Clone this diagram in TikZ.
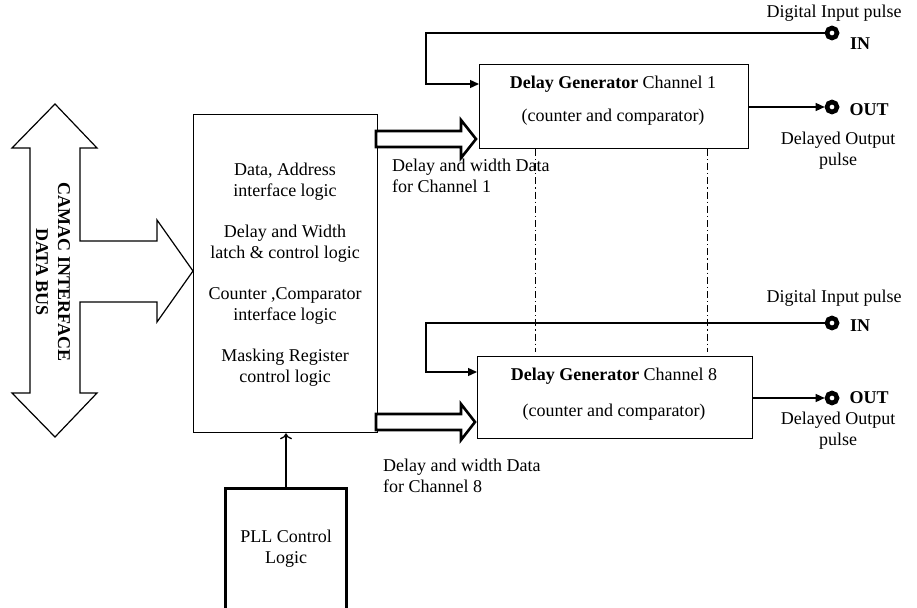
\documentclass[tikz,border=0pt]{standalone}
\usepackage{fontspec}
\setmainfont{Liberation Serif}
\usetikzlibrary{arrows.meta}
\begin{document}
\begin{tikzpicture}[x=1pt,y=-1pt,
  txt/.style={font=\fontsize{18}{21}\selectfont, inner sep=0pt, align=center},
  bold/.style={font=\fontsize{18}{21}\selectfont\bfseries},
  thinln/.style={line width=1.3pt},
  blk/.style={draw, line width=1.3pt, inner sep=0pt},
  port/.style={circle, draw, line width=4.6pt, minimum size=10pt, inner sep=0pt},
  dashdotline/.style={line width=0.9pt, dash pattern=on 7pt off 3pt on 1.2pt off 3pt},
  fatarrow/.style={draw, line width=2.6pt, fill=white, line join=miter},
  tri/.style={-{Triangle[length=9pt,width=8pt]}}
]
\useasboundingbox (0,0) rectangle (917,607);

% CAMAC bus arrow
\draw[line width=1.2pt, line join=miter] (55,104) -- (97,148) -- (80,148) -- (80,241) -- (157,241) -- (157,220) -- (193,271) -- (157,322) -- (157,302) -- (80,302) -- (80,393) -- (97,393) -- (55,437) -- (12,393) -- (30,393) -- (30,148) -- (12,148) -- cycle;
\node[txt, font=\fontsize{18}{22}\selectfont\bfseries, rotate=-90] (camac) at (53,272) {CAMAC INTERFACE\\DATA BUS};

% main box
\node[blk, minimum width=184pt, minimum height=318pt, anchor=north west] (main) at (193,114) {};
\node[txt] (m1) at (285,181.5) {Data, Address\\interface logic};
\node[txt] (m2) at (285,244) {Delay and Width\\latch \& control logic};
\node[txt] (m3) at (285,306) {Counter ,Comparator\\interface logic};
\node[txt] (m4) at (285,367.5) {Masking Register\\control logic};

% delay generator boxes
\node[blk, minimum width=269pt, minimum height=84pt, anchor=north west] (dg1) at (479,64) {};
\node[txt] (dg1a) at (613,84) {\textbf{Delay Generator} Channel 1};
\node[txt] (dg1b) at (613,117) {(counter and comparator)};

\node[blk, minimum width=275pt, minimum height=82pt, anchor=north west] (dg8) at (477,356) {};
\node[txt] (dg8a) at (614,376) {\textbf{Delay Generator} Channel 8};
\node[txt] (dg8b) at (614,412) {(counter and comparator)};

% dash-dot links
\draw[dashdotline] (535,149) -- (535,352);
\draw[dashdotline] (707,149) -- (707,352);

% ports
\node[port] (in1) at (832,33) {};
\node[port] (out1) at (832,107) {};
\node[port] (in8) at (832,323) {};
\node[port] (out8) at (832,398) {};

\node[txt] (lin1) at (834,13) {Digital Input pulse};
\node[txt, bold] (tin1) at (860,44) {IN};
\node[txt, bold] (tout1) at (869,110) {OUT};
\node[txt] (lout1) at (838,151) {Delayed Output\\pulse};

\node[txt] (lin8) at (834,298) {Digital Input pulse};
\node[txt, bold] (tin8) at (860,326) {IN};
\node[txt, bold] (tout8) at (869,398) {OUT};
\node[txt] (lout8) at (838,431) {Delayed Output\\pulse};

% input connectors
\coordinate (k1) at (426,33);
\coordinate (e1) at (479,84);
\draw[thinln, tri] (in1.west) -- (k1) |- (e1);
\coordinate (k8) at (426,323);
\coordinate (e8) at (477,372);
\draw[thinln, tri] (in8.west) -- (k8) |- (e8);

% output connectors
\draw[thinln, tri] (dg1.east |- out1) -- (out1.west);
\draw[thinln, tri] (dg8.east |- out8) -- (out8.west);

% fat data arrows
\draw[fatarrow] (376,131) -- (461,131) -- (461,120) -- (476,139) -- (461,158) -- (461,147) -- (376,147) -- cycle;
\draw[fatarrow] (376,414) -- (461,414) -- (461,404) -- (475,422) -- (461,440) -- (461,430) -- (376,430) -- cycle;
\node[txt, align=left, anchor=west] (d1) at (392,176) {Delay and width Data\\for Channel 1};
\node[txt, align=left, anchor=west] (d8) at (383,476) {Delay and width Data\\for Channel 8};

% PLL block
\draw[line width=3pt] (225,612) -- (225,488) -- (346,488) -- (346,612);
\coordinate (pll) at (286,488);
\node[txt] (pllt) at (286,549) {PLL Control\\Logic};
\draw[thinln, -{To[length=6pt,width=12pt]}] (pll) -- (main.south -| pll);
\end{tikzpicture}
\end{document}
